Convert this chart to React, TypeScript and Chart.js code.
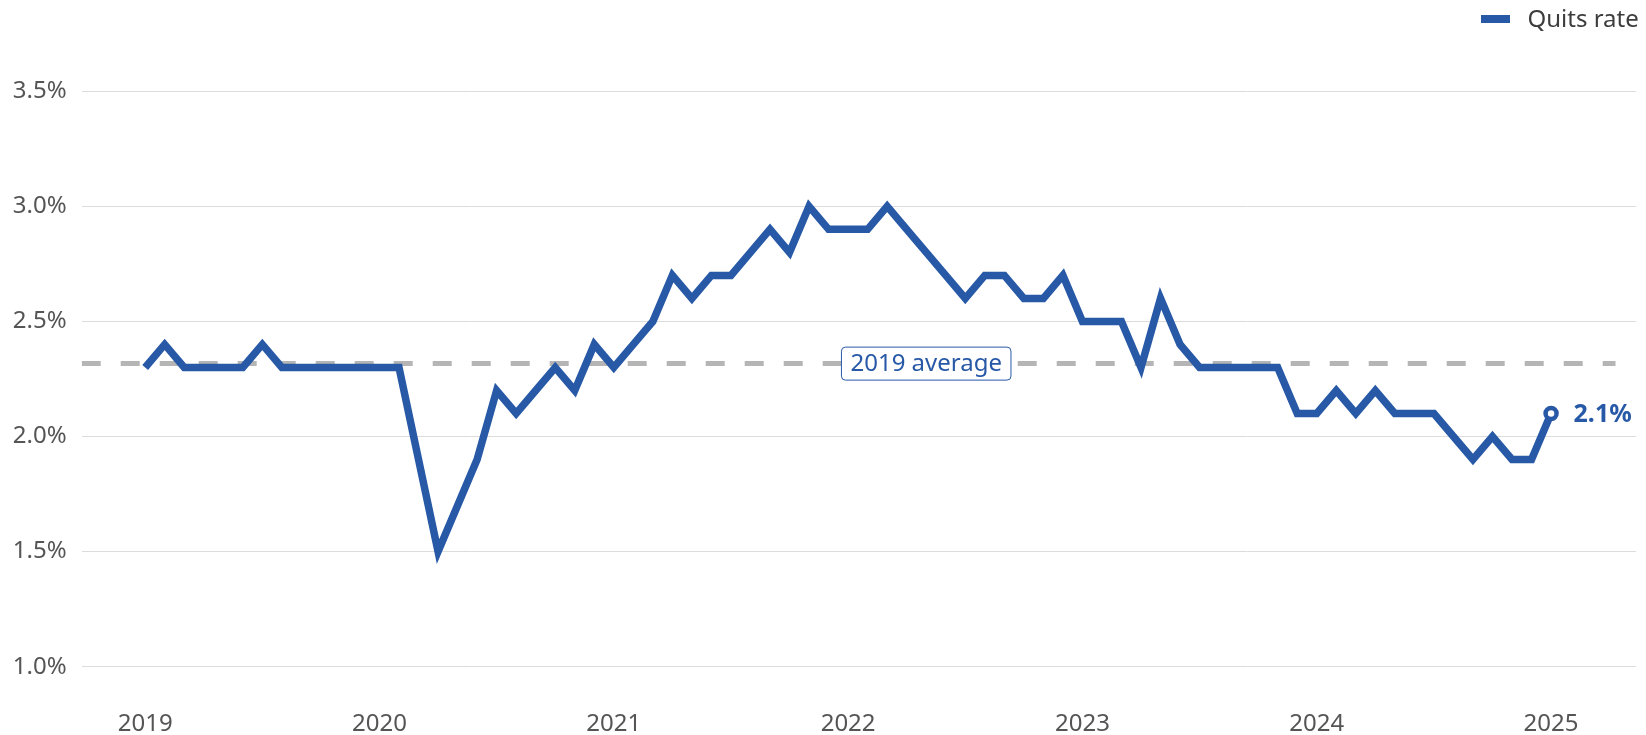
import React, { useEffect, useRef } from "react";
import { Chart, registerables } from "chart.js";

Chart.register(...registerables);

// Monthly quits rate (%), Jan 2019 .. Jan 2025
const rate2019 = [2.3, 2.4, 2.3, 2.3, 2.3, 2.3, 2.4, 2.3, 2.3, 2.3, 2.3, 2.3];
const rate2020 = [2.3, 2.3, 1.9, 1.5, 1.7, 1.9, 2.2, 2.1, 2.2, 2.3, 2.2, 2.4];
const rate2021 = [2.3, 2.4, 2.5, 2.7, 2.6, 2.7, 2.7, 2.8, 2.9, 2.8, 3.0, 2.9];
const rate2022 = [2.9, 2.9, 3.0, 2.9, 2.8, 2.7, 2.6, 2.7, 2.7, 2.6, 2.6, 2.7];
const rate2023 = [2.5, 2.5, 2.5, 2.3, 2.6, 2.4, 2.3, 2.3, 2.3, 2.3, 2.3, 2.1];
const rate2024 = [2.1, 2.2, 2.1, 2.2, 2.1, 2.1, 2.1, 2.0, 1.9, 2.0, 1.9, 1.9];
const rate2025 = [2.1];

const quitsRate = [
  ...rate2019,
  ...rate2020,
  ...rate2021,
  ...rate2022,
  ...rate2023,
  ...rate2024,
  ...rate2025,
];

const START_YEAR = 2019;
const yearTickMonths = [0, 12, 24, 36, 48, 60, 72];
const yTickValues = [1.0, 1.5, 2.0, 2.5, 3.0, 3.5];
const SERIES_LABEL = "Quits rate";
const AVG_LABEL = "2019 average";
const AVG_LABEL_MONTH = 40;
const average2019 = rate2019.reduce((a, b) => a + b, 0) / rate2019.length;

const BLUE = "#2759a7";
const FONT = '"Noto Sans", "Open Sans", sans-serif';

const annotPlugin = {
  id: "annot",
  afterDatasetsDraw(chart: any) {
    const ctx = chart.ctx as CanvasRenderingContext2D;
    const xs = chart.scales.x;
    const ys = chart.scales.y;
    ctx.save();

    // 2019 average label box
    ctx.font = `24px ${FONT}`;
    const tw = ctx.measureText(AVG_LABEL).width;
    const bw = tw + 18;
    const bh = 33;
    const cx = xs.getPixelForValue(AVG_LABEL_MONTH);
    const cy = ys.getPixelForValue(average2019);
    ctx.beginPath();
    (ctx as any).roundRect(cx - bw / 2, cy - bh / 2, bw, bh, 4);
    ctx.fillStyle = "#ffffff";
    ctx.fill();
    ctx.lineWidth = 1;
    ctx.strokeStyle = BLUE;
    ctx.stroke();
    ctx.fillStyle = BLUE;
    ctx.textAlign = "center";
    ctx.textBaseline = "middle";
    ctx.fillText(AVG_LABEL, cx, cy + 1);

    // last value label
    const meta = chart.getDatasetMeta(0);
    const pt = meta.data[meta.data.length - 1];
    const lastVal = quitsRate[quitsRate.length - 1];
    ctx.font = `bold 25px ${FONT}`;
    ctx.textAlign = "left";
    ctx.textBaseline = "middle";
    ctx.fillStyle = BLUE;
    ctx.fillText(`${lastVal.toFixed(1)}%`, pt.x + 22.5, pt.y + 1);

    // legend
    ctx.fillStyle = BLUE;
    ctx.fillRect(1481, 15, 29, 8);
    ctx.font = `24px ${FONT}`;
    ctx.fillStyle = "#3d3d3d";
    ctx.textAlign = "left";
    ctx.textBaseline = "middle";
    ctx.fillText(SERIES_LABEL, 1527.5, 20);

    ctx.restore();
  },
};

export default function App() {
  const ref = useRef<HTMLCanvasElement | null>(null);

  useEffect(() => {
    document.body.style.margin = "0";
    const canvas = ref.current;
    if (!canvas) return;
    const lastIdx = quitsRate.length - 1;
    const chart = new Chart(canvas, {
      type: "line",
      data: {
        datasets: [
          {
            label: SERIES_LABEL,
            data: quitsRate.map((v, i) => ({ x: i, y: v })),
            borderColor: BLUE,
            borderWidth: 7.5,
            borderJoinStyle: "miter",
            tension: 0,
            pointRadius: (c: any) => (c.dataIndex === lastIdx ? 5.5 : 0),
            pointBackgroundColor: "#ffffff",
            pointBorderColor: BLUE,
            pointBorderWidth: 4.5,
            pointHoverRadius: 0,
            fill: false,
          } as any,
          {
            label: AVG_LABEL,
            data: [
              { x: -3.25, y: average2019 },
              { x: 75.3, y: average2019 },
            ],
            borderColor: "#b5b5b5",
            borderWidth: 5,
            borderDash: [19, 20],
            pointRadius: 0,
            fill: false,
          } as any,
        ],
      },
      options: {
        animation: false,
        responsive: false,
        events: [],
        layout: { padding: { top: 33.7, right: 2, left: 0, bottom: 0 } },
        plugins: {
          legend: { display: false },
          tooltip: { enabled: false },
        },
        scales: {
          x: {
            type: "linear",
            min: -3.25,
            max: 76.35,
            afterBuildTicks: (scale: any) => {
              scale.ticks = yearTickMonths.map((v) => ({ value: v }));
            },
            afterFit: (scale: any) => {
              scale.height = 33.8;
            },
            grid: { display: false, drawTicks: false },
            border: { display: false },
            ticks: {
              padding: 8.4,
              color: "#555555",
              font: { family: FONT, size: 24 },
              maxRotation: 0,
              autoSkip: false,
              callback: (v: any) => String(START_YEAR + Math.round(Number(v) / 12)),
            },
          },
          y: {
            type: "linear",
            min: 0.85,
            max: 3.75,
            afterBuildTicks: (scale: any) => {
              scale.ticks = yTickValues.map((v) => ({ value: v }));
            },
            afterFit: (scale: any) => {
              scale.width = 81.7;
            },
            grid: { color: "#dcdcdc", lineWidth: 1, drawTicks: false },
            border: { display: false },
            ticks: {
              padding: 15,
              color: "#555555",
              font: { family: FONT, size: 24 },
              callback: (v: any) => `${Number(v).toFixed(1)}%`,
            },
          },
        },
      },
      plugins: [annotPlugin],
    } as any);
    return () => chart.destroy();
  }, []);

  return (
    <div style={{ position: "absolute", left: 0, top: 0, width: 1646, height: 735 }}>
      <canvas ref={ref} width={1646} height={735} />
    </div>
  );
}
